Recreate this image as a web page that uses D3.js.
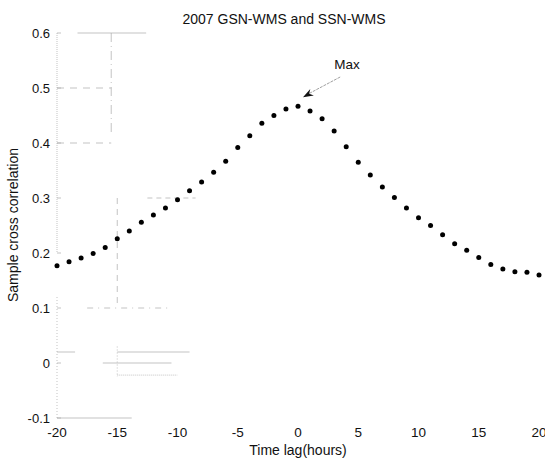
<!DOCTYPE html>
<html>
<head>
<meta charset="utf-8">
<script src="https://cdn.jsdelivr.net/npm/d3@7"></script>
<style>
  body { margin: 0; background: #fff; overflow: hidden; }
  text { font-family: "Liberation Sans", Arial, sans-serif; fill: #111; }
</style>
</head>
<body>
<div class="chart"></div>
<script>
// lag in hours and sample cross correlation
const lags = d3.range(-20, 21)
const corr = [0.177, 0.184, 0.191, 0.199, 0.210, 0.226, 0.240, 0.256, 0.269, 0.282,
              0.297, 0.313, 0.329, 0.347, 0.367, 0.392, 0.413, 0.436, 0.450, 0.462,
              0.467, 0.458, 0.444, 0.422, 0.393, 0.365, 0.342, 0.320, 0.301, 0.282,
              0.264, 0.250, 0.233, 0.217, 0.205, 0.192, 0.179, 0.171, 0.166, 0.165, 0.160]
const xTicks = [-20, -15, -10, -5, 0, 5, 10, 15, 20]
const yTicks = [-0.1, 0, 0.1, 0.2, 0.3, 0.4, 0.5, 0.6]
const title = '2007 GSN-WMS and SSN-WMS'
const xLabel = 'Time lag(hours)'
const yLabel = 'Sample cross correlation'

// faint scanned grid remnants [x1, y1, x2, y2, dash]
const ghostLines = [
    [-20, 0.5, -15.5, 0.5, '7,6'],
    [-20, 0.4, -15.5, 0.4, '7,6'],
    [-15.5, 0.6, -15.5, 0.42, '9,4,1,4'],
    [-15, 0.3, -15, 0.1, '6,5'],
    [-18.3, 0.6, -12.6, 0.6, ''],
    [-20, 0.6, -20, 0.2, '1,1'],
    [-20, 0.12, -20, -0.1, '1,2'],
    [-12.5, 0.3, -8.5, 0.3, '5,4'],
    [-17.5, 0.1, -10.5, 0.1, '6,5,1,5'],
    [-16.2, 0, -10.5, 0, ''],
    [-15, 0.02, -9, 0.02, ''],
    [-20, 0.02, -18.5, 0.02, ''],
    [-15, -0.022, -10, -0.022, '1,1'],
    [-20, -0.1, -13.8, -0.1, ''],
    [-15, 0.03, -15, -0.025, '1,2']
]

const svgWidth = 545
const svgHeight = 459
const margin = {top: 33, right: 6, bottom: 41, left: 57}
const graphWidth = svgWidth - margin.left - margin.right
const graphHeight = svgHeight - margin.top - margin.bottom

const svg = d3.select('.chart')
    .append('svg')
    .attr('width', svgWidth)
    .attr('height', svgHeight)
const graph = svg.append('g')
    .attr('transform', `translate(${margin.left},${margin.top})`)

const x = d3.scaleLinear().domain([-20, 20]).range([0, graphWidth])
const y = d3.scaleLinear().domain([-0.1, 0.6]).range([graphHeight, 0])

graph.selectAll('.ghost')
    .data(ghostLines)
    .join('line')
    .attr('class', 'ghost')
    .attr('x1', d => x(d[0]))
    .attr('y1', d => y(d[1]))
    .attr('x2', d => x(d[2]))
    .attr('y2', d => y(d[3]))
    .attr('stroke', '#aaa')
    .attr('stroke-width', 0.7)
    .attr('stroke-dasharray', d => d[4])

// y tick labels and small ticks
graph.selectAll('.ytick')
    .data(yTicks)
    .join('text')
    .attr('class', 'ytick')
    .attr('x', -7)
    .attr('y', d => y(d))
    .attr('dy', '0.35em')
    .attr('text-anchor', 'end')
    .style('font-size', '13px')
    .text(d => +d.toFixed(1))

graph.selectAll('.ytickmark')
    .data(yTicks)
    .join('line')
    .attr('class', 'ytickmark')
    .attr('x1', 0)
    .attr('x2', 4)
    .attr('y1', d => y(d))
    .attr('y2', d => y(d))
    .attr('stroke', '#aaa')
    .attr('stroke-width', 0.7)

graph.selectAll('.xtick')
    .data(xTicks)
    .join('text')
    .attr('class', 'xtick')
    .attr('x', d => x(d))
    .attr('y', graphHeight + 19)
    .attr('text-anchor', 'middle')
    .style('font-size', '13.5px')
    .text(d => d)

graph.selectAll('.dot')
    .data(lags)
    .join('circle')
    .attr('class', 'dot')
    .attr('cx', d => x(d))
    .attr('cy', (d, i) => y(corr[i]))
    .attr('r', 2.5)
    .attr('fill', '#000')

// annotation
const maxIdx = d3.maxIndex(corr)
const tip = [x(lags[maxIdx]) + 5, y(corr[maxIdx]) - 9]
const tail = [x(3.5), y(0.52)]
graph.append('line')
    .attr('x1', tail[0]).attr('y1', tail[1])
    .attr('x2', tip[0] + 4).attr('y2', tip[1] - 2.5)
    .attr('stroke', '#888')
    .attr('stroke-width', 0.8)
    .attr('stroke-dasharray', '3,1')
const ang = Math.atan2(tip[1] - tail[1], tip[0] - tail[0])
const head = d3.path()
head.moveTo(tip[0], tip[1])
head.lineTo(tip[0] - 11 * Math.cos(ang - 0.35), tip[1] - 11 * Math.sin(ang - 0.35))
head.lineTo(tip[0] - 7 * Math.cos(ang), tip[1] - 7 * Math.sin(ang))
head.lineTo(tip[0] - 11 * Math.cos(ang + 0.35), tip[1] - 11 * Math.sin(ang + 0.35))
head.closePath()
graph.append('path').attr('d', head.toString()).attr('fill', '#111')

graph.append('text')
    .attr('x', x(3))
    .attr('y', y(0.535))
    .style('font-size', '13.5px')
    .text('Max')

svg.append('text')
    .attr('x', 284)
    .attr('y', 24)
    .attr('text-anchor', 'middle')
    .style('font-size', '14px')
    .text(title)

svg.append('text')
    .attr('x', margin.left + x(0))
    .attr('y', 455)
    .attr('text-anchor', 'middle')
    .style('font-size', '14px')
    .text(xLabel)

svg.append('text')
    .attr('transform', `translate(18,225) rotate(-90)`)
    .attr('text-anchor', 'middle')
    .style('font-size', '14px')
    .text(yLabel)
</script>
</body>
</html>
